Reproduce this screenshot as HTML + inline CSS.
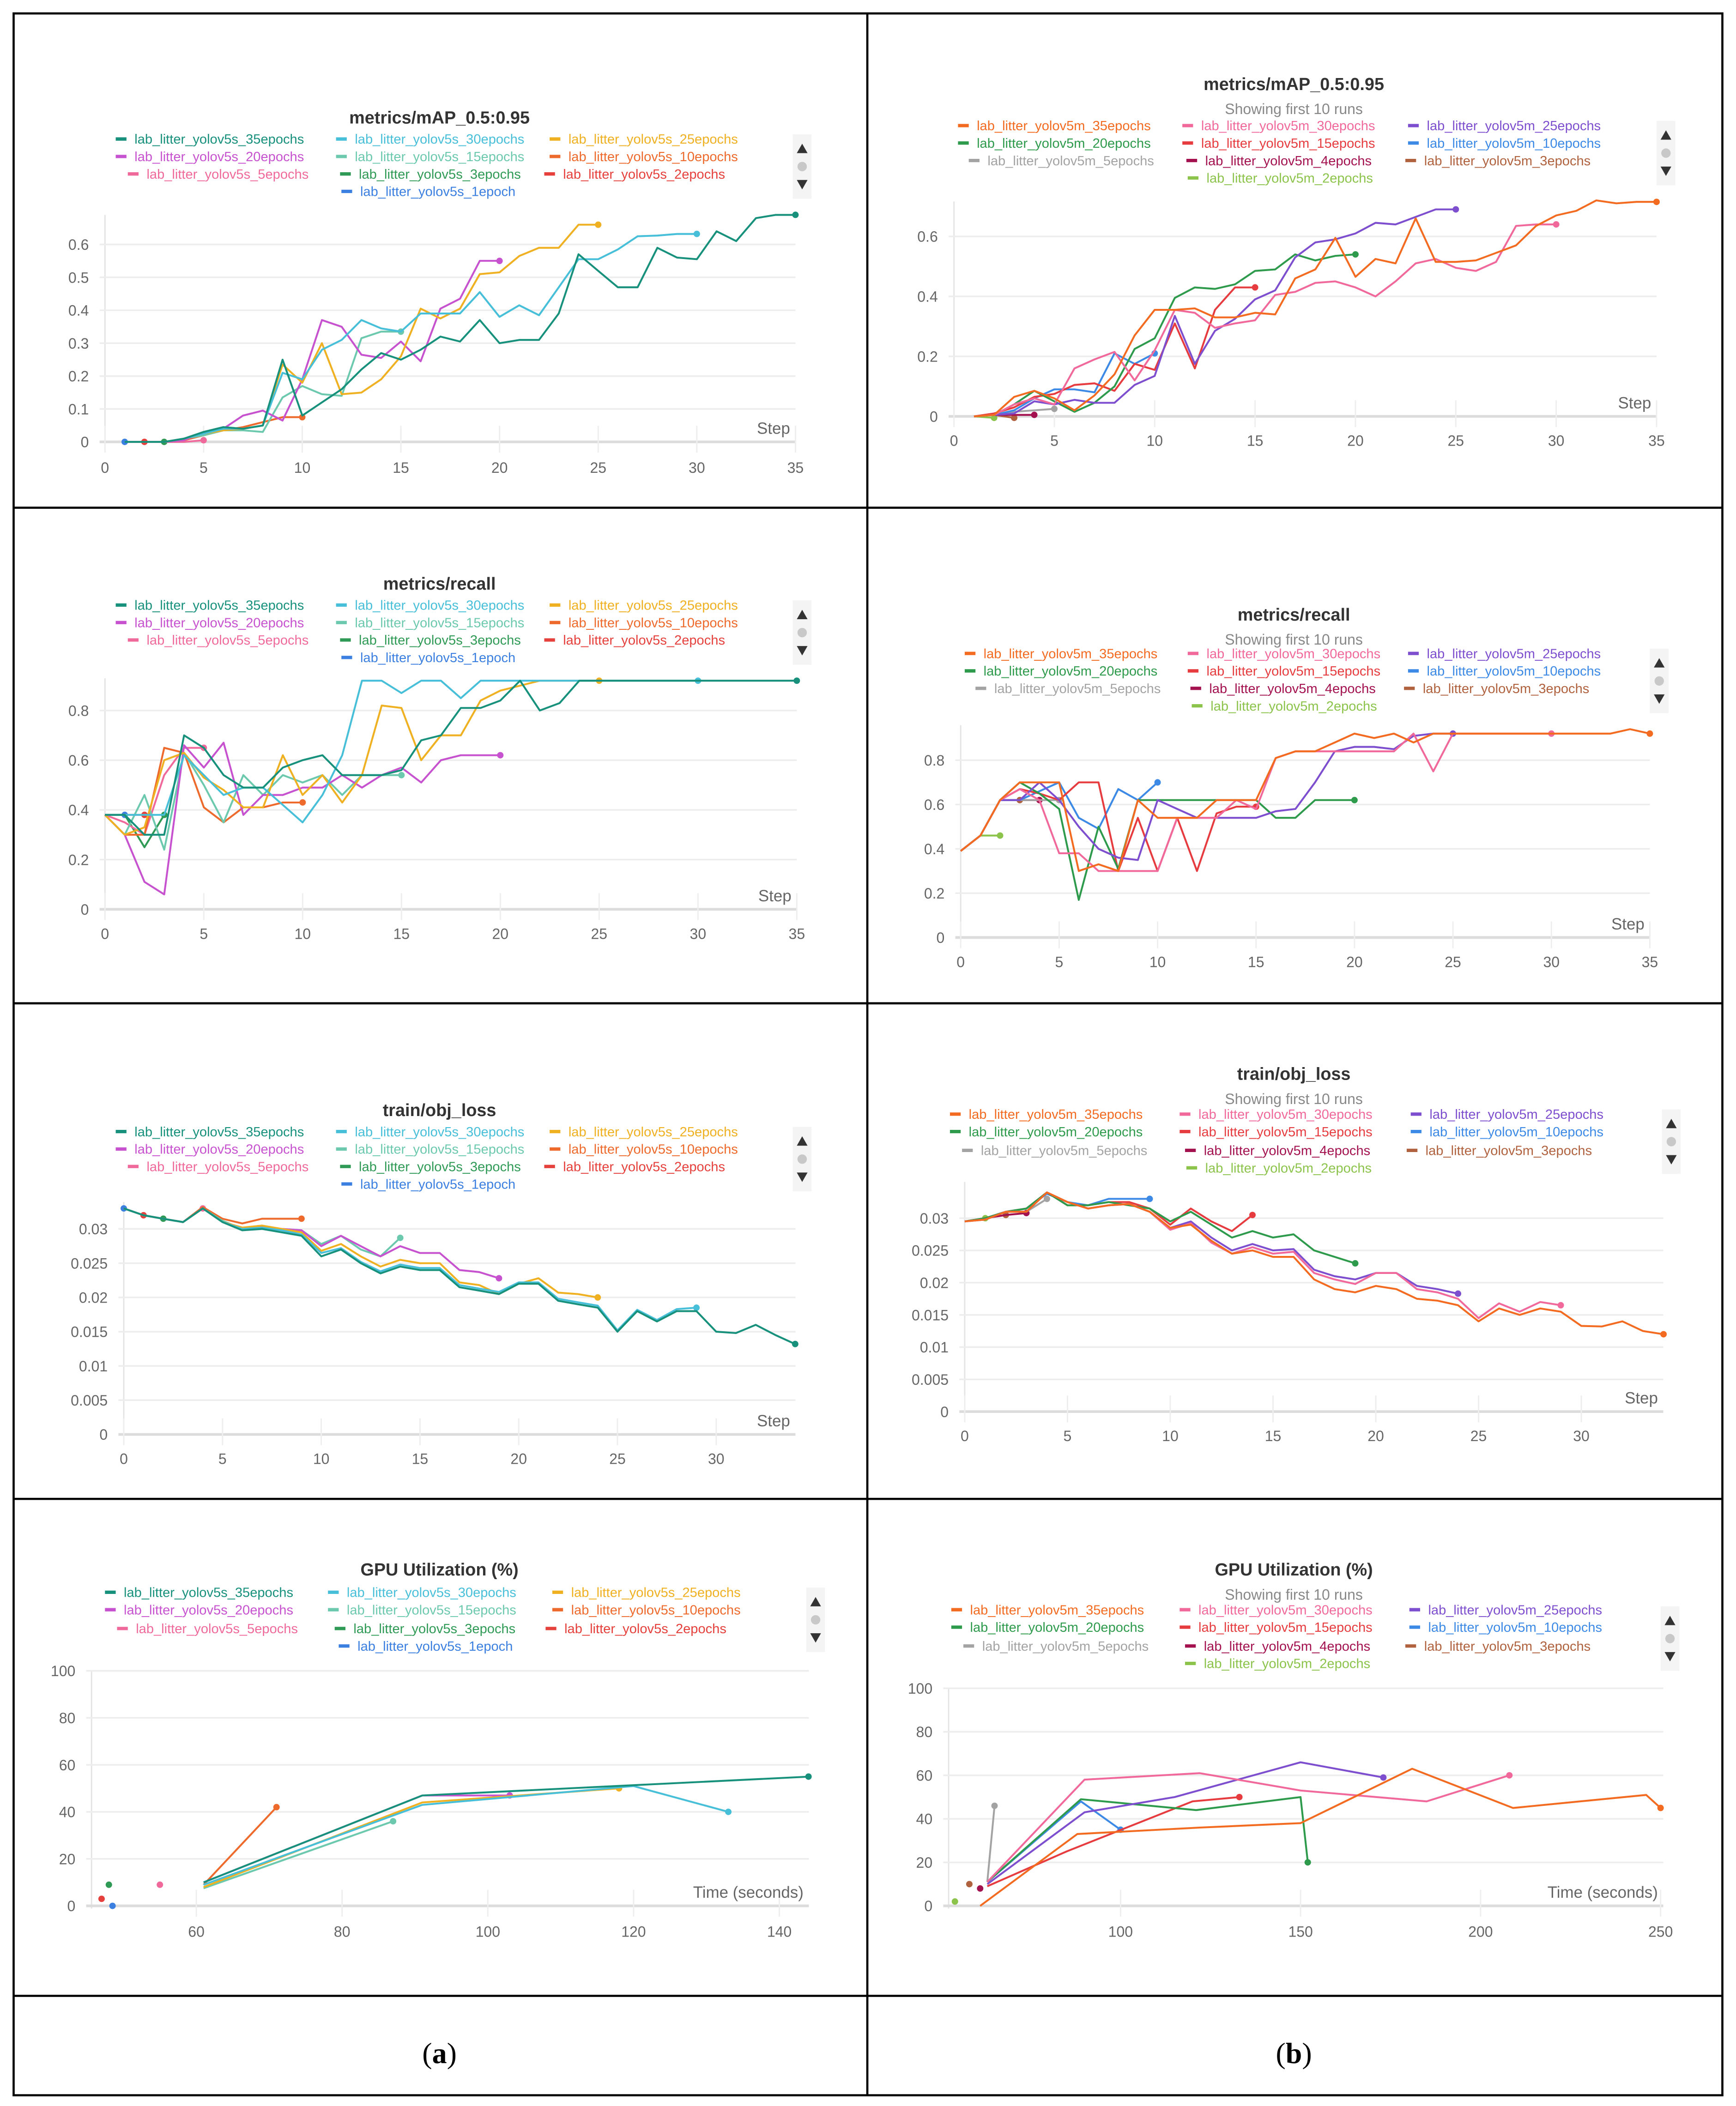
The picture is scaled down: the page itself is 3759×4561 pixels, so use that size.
<!DOCTYPE html>
<html><head><meta charset="utf-8"><style>
html,body{margin:0;padding:0;background:#fff;}
svg{display:block;}
</style></head><body>
<svg id="fig" xmlns="http://www.w3.org/2000/svg" width="3759" height="4561" viewBox="0 0 1292 1568" font-family="'Liberation Sans', sans-serif">
<rect x="0" y="0" width="1292" height="1568" fill="#fff"/>
<g stroke="#000" stroke-width="1.6" fill="none">
<rect x="10" y="10" width="1272" height="1550"/>
<line x1="645.5" y1="10" x2="645.5" y2="1560"/>
<line x1="10" y1="378" x2="1282" y2="378"/>
<line x1="10" y1="747" x2="1282" y2="747"/>
<line x1="10" y1="1116" x2="1282" y2="1116"/>
<line x1="10" y1="1486" x2="1282" y2="1486"/>
</g>
<text x="327" y="1536" text-anchor="middle" font-family="'Liberation Serif', serif" font-size="22" fill="#000">(<tspan font-weight="bold">a</tspan>)</text>
<text x="963" y="1536" text-anchor="middle" font-family="'Liberation Serif', serif" font-size="22" fill="#000">(<tspan font-weight="bold">b</tspan>)</text>
<g id="charts"></g>
</svg>
<script>
// ---------- data: yolov5s mAP (steps from 1) ----------
const mapS35=[0,0,0,0.01,0.03,0.045,0.04,0.05,0.25,0.08,0.12,0.16,0.22,0.27,0.25,0.28,0.32,0.305,0.37,0.30,0.31,0.31,0.39,0.57,0.52,0.47,0.47,0.59,0.56,0.555,0.64,0.61,0.68,0.69,0.69];
const mapS30=[0,0,0,0.01,0.025,0.04,0.04,0.05,0.21,0.19,0.28,0.31,0.37,0.345,0.335,0.39,0.39,0.39,0.455,0.38,0.415,0.385,0.47,0.555,0.555,0.585,0.625,0.627,0.632,0.632];
const mapS25=[0,0,0,0.01,0.025,0.035,0.04,0.05,0.235,0.18,0.30,0.145,0.15,0.19,0.26,0.405,0.375,0.405,0.51,0.515,0.565,0.59,0.59,0.66,0.66];
const mapS20=[0,0,0,0.005,0.03,0.04,0.08,0.095,0.065,0.19,0.37,0.35,0.265,0.255,0.305,0.245,0.405,0.435,0.55,0.55];
const mapS15=[0,0,0,0.01,0.02,0.035,0.035,0.03,0.135,0.17,0.145,0.14,0.315,0.335,0.335];
const mapS10=[0,0,0,0.005,0.02,0.035,0.045,0.06,0.075,0.075];
const mapS5=[0,0,0,0,0.005];
const mapS3=[0,0,0];
const mapS2=[0,0];
const mapS1=[0];
// ---------- yolov5m mAP (steps from 1) ----------
const mapM35=[0,0.005,0.065,0.085,0.06,0.02,0.07,0.14,0.27,0.355,0.355,0.36,0.33,0.33,0.345,0.34,0.46,0.49,0.595,0.465,0.525,0.51,0.66,0.515,0.515,0.52,0.545,0.57,0.635,0.67,0.685,0.72,0.71,0.715,0.715];
const mapM30=[0,0.005,0.04,0.06,0.04,0.16,0.19,0.215,0.12,0.22,0.355,0.345,0.295,0.31,0.32,0.405,0.415,0.445,0.45,0.43,0.40,0.45,0.51,0.525,0.495,0.485,0.515,0.635,0.64,0.64];
const mapM25=[0,0.005,0.01,0.05,0.04,0.055,0.045,0.045,0.105,0.135,0.335,0.175,0.285,0.325,0.39,0.42,0.53,0.58,0.59,0.61,0.645,0.64,0.665,0.69,0.69];
const mapM20=[0,0.005,0.04,0.085,0.05,0.015,0.045,0.10,0.225,0.26,0.395,0.43,0.425,0.44,0.485,0.49,0.54,0.52,0.535,0.54];
const mapM15=[0,0.01,0.03,0.065,0.075,0.105,0.11,0.085,0.175,0.155,0.31,0.16,0.355,0.43,0.43];
const mapM10=[0,0.005,0.02,0.06,0.09,0.09,0.08,0.21,0.175,0.21];
const mapM5=[0,0.005,0.015,0.02,0.025];
const mapM4=[0,0.005,0.005,0.005];
const mapM3=[0,0.005,-0.005];
const mapM2=[0,-0.005];
// ---------- yolov5s recall (steps from 0) ----------
const recS35=[0.38,0.38,0.30,0.30,0.70,0.65,0.54,0.49,0.49,0.57,0.60,0.62,0.54,0.54,0.54,0.56,0.68,0.70,0.81,0.81,0.84,0.92,0.80,0.83,0.92,0.92,0.92,0.92,0.92,0.92,0.92,0.92,0.92,0.92,0.92,0.92];
const recS30=[0.38,0.38,0.38,0.38,0.62,0.54,0.46,0.49,0.49,0.42,0.35,0.46,0.62,0.92,0.92,0.87,0.92,0.92,0.85,0.92,0.92,0.92,0.92,0.92,0.92,0.92,0.92,0.92,0.92,0.92,0.92];
const recS25=[0.38,0.30,0.33,0.60,0.63,0.53,0.48,0.41,0.41,0.62,0.46,0.54,0.43,0.54,0.82,0.81,0.60,0.70,0.70,0.84,0.88,0.90,0.92,0.92,0.92,0.92];
const recS20=[0.38,0.30,0.11,0.06,0.66,0.57,0.67,0.38,0.46,0.46,0.49,0.49,0.54,0.49,0.54,0.57,0.51,0.60,0.62,0.62,0.62];
const recS15=[0.38,0.30,0.46,0.24,0.63,0.50,0.35,0.54,0.46,0.54,0.51,0.54,0.46,0.54,0.54,0.54];
const recS10=[0.38,0.30,0.30,0.65,0.63,0.41,0.35,0.41,0.41,0.43,0.43];
const recS5=[0.38,0.35,0.30,0.54,0.65,0.65];
const recS3=[0.38,0.38,0.25,0.38];
const recS2=[0.38,0.38,0.38];
const recS1=[0.38,0.38];
// ---------- yolov5m recall (steps from 0) ----------
const recM35=[0.39,0.46,0.62,0.70,0.70,0.70,0.30,0.33,0.30,0.62,0.54,0.54,0.54,0.62,0.62,0.62,0.81,0.84,0.84,0.88,0.92,0.90,0.92,0.88,0.92,0.92,0.92,0.92,0.92,0.92,0.92,0.92,0.92,0.92,0.94,0.92];
const recM30=[0.39,0.46,0.62,0.67,0.62,0.38,0.38,0.30,0.30,0.30,0.30,0.54,0.54,0.54,0.62,0.58,0.81,0.84,0.84,0.84,0.84,0.84,0.84,0.92,0.75,0.92,0.92,0.92,0.92,0.92,0.92];
const recM25=[0.39,0.46,0.62,0.62,0.70,0.62,0.50,0.40,0.36,0.35,0.62,0.58,0.54,0.54,0.54,0.54,0.57,0.58,0.70,0.84,0.86,0.86,0.85,0.91,0.92,0.92];
const recM20=[0.39,0.46,0.62,0.70,0.65,0.58,0.17,0.50,0.31,0.62,0.62,0.62,0.62,0.62,0.62,0.62,0.54,0.54,0.62,0.62,0.62];
const recM15=[0.39,0.46,0.62,0.67,0.65,0.62,0.70,0.70,0.30,0.54,0.30,0.54,0.30,0.56,0.59,0.59];
const recM10=[0.39,0.46,0.62,0.62,0.66,0.70,0.54,0.49,0.67,0.62,0.70];
const recM5=[0.39,0.46,0.62,0.62,0.62,0.62];
const recM4=[0.39,0.46,0.62,0.62,0.62];
const recM3=[0.39,0.46,0.62,0.62];
const recM2=[0.39,0.46,0.46];
// ---------- yolov5s obj loss (steps from 0) ----------
const objS35=[0.033,0.032,0.0315,0.031,0.033,0.031,0.0298,0.030,0.0295,0.029,0.026,0.027,0.025,0.0235,0.0245,0.024,0.024,0.0215,0.021,0.0205,0.022,0.022,0.0195,0.019,0.0185,0.015,0.018,0.0165,0.018,0.018,0.015,0.0148,0.016,0.0145,0.0132];
const objS30=[0.033,0.032,0.0315,0.031,0.033,0.031,0.0300,0.0302,0.0298,0.0292,0.0265,0.0272,0.0252,0.0238,0.0248,0.0243,0.0243,0.0218,0.0213,0.0208,0.0222,0.0222,0.0198,0.0193,0.0188,0.0152,0.0182,0.0167,0.0183,0.0185];
const objS25=[0.033,0.032,0.0315,0.031,0.033,0.031,0.0302,0.0305,0.0300,0.0295,0.0268,0.0278,0.026,0.0245,0.0255,0.025,0.025,0.0222,0.0218,0.0205,0.022,0.0228,0.0207,0.0205,0.020];
const objS20=[0.033,0.032,0.0315,0.031,0.033,0.031,0.0302,0.0303,0.0300,0.0298,0.0275,0.029,0.0275,0.026,0.0275,0.0265,0.0265,0.024,0.0237,0.0228];
const objS15=[0.033,0.032,0.0315,0.031,0.033,0.0312,0.030,0.0302,0.030,0.0298,0.0278,0.029,0.027,0.026,0.0287];
const objS10=[0.033,0.032,0.0315,0.031,0.0332,0.0315,0.0308,0.0315,0.0315,0.0315];
const objS5=[0.033,0.032,0.0315,0.031,0.033];
const objS3=[0.033,0.032,0.0315];
const objS2=[0.033,0.032];
const objS1=[0.033];
// ---------- yolov5m obj loss (steps from 0) ----------
const objM35=[0.0295,0.0298,0.031,0.031,0.034,0.0325,0.0315,0.032,0.0322,0.031,0.0285,0.029,0.0265,0.0245,0.025,0.024,0.024,0.0205,0.019,0.0185,0.0195,0.019,0.0175,0.0172,0.0165,0.014,0.016,0.015,0.016,0.0155,0.0133,0.0132,0.014,0.0125,0.012];
const objM30=[0.0295,0.0298,0.031,0.031,0.034,0.0325,0.0315,0.032,0.0322,0.031,0.0282,0.0292,0.0262,0.0245,0.0255,0.0245,0.0248,0.0215,0.0205,0.0198,0.0215,0.0215,0.019,0.0185,0.0175,0.0145,0.0168,0.0155,0.017,0.0165];
const objM25=[0.0295,0.0298,0.031,0.031,0.034,0.0325,0.0315,0.032,0.0322,0.031,0.0285,0.0295,0.027,0.025,0.026,0.025,0.0252,0.022,0.021,0.0205,0.0215,0.0215,0.0195,0.019,0.0183];
const objM20=[0.0295,0.030,0.031,0.0315,0.034,0.032,0.032,0.0325,0.032,0.0315,0.0295,0.031,0.029,0.027,0.028,0.027,0.0275,0.025,0.024,0.023];
const objM15=[0.0295,0.030,0.031,0.0315,0.034,0.032,0.032,0.0325,0.0325,0.0315,0.029,0.0315,0.0295,0.028,0.0305];
const objM10=[0.0295,0.030,0.031,0.0315,0.0338,0.0325,0.032,0.033,0.033,0.033];
const objM5=[0.0295,0.030,0.031,0.031,0.033];
const objM4=[0.0295,0.030,0.0305,0.0308];
const objM3=[0.0295,0.030,0.0305];
const objM2=[0.0295,0.030];
// ---------- yolov5s GPU utilisation (time s, %) ----------
const gpuS35T=[61,91,144], gpuS35V=[10,47,55];
const gpuS30T=[61,91,120,133], gpuS30V=[9,43,51,40];
const gpuS25T=[61,91,118], gpuS25V=[8,44,50];
const gpuS20T=[61,91,103], gpuS20V=[10,47,47];
const gpuS15T=[61,87], gpuS15V=[7.5,36];
const gpuS10T=[61,71], gpuS10V=[9,42];
const gpuS5T=[55], gpuS5V=[9];
const gpuS3T=[48], gpuS3V=[9];
const gpuS2T=[47], gpuS2V=[3];
const gpuS1T=[48.5], gpuS1V=[0];
// ---------- yolov5m GPU utilisation ----------
const gpuM35T=[61,88,122,150,181,209,246,250], gpuM35V=[0,33,36,38,63,45,51,45];
const gpuM30T=[63,90,122,150,185,208], gpuM30V=[11,58,61,53,48,60];
const gpuM25T=[63,90,115,150,173], gpuM25V=[10,43,50,66,59];
const gpuM20T=[63,89,121,150,152], gpuM20V=[11,49,44,50,20];
const gpuM15T=[63,85,120,133], gpuM15V=[9,25,48,50];
const gpuM10T=[63,89,100], gpuM10V=[11,48,35];
const gpuM5T=[63,65], gpuM5V=[11,46];
const gpuM4T=[61], gpuM4V=[8];
const gpuM3T=[58], gpuM3V=[10];
const gpuM2T=[54], gpuM2V=[2];

// ---------- names / colours ----------
const sNames=['lab_litter_yolov5s_35epochs','lab_litter_yolov5s_30epochs','lab_litter_yolov5s_25epochs','lab_litter_yolov5s_20epochs','lab_litter_yolov5s_15epochs','lab_litter_yolov5s_10epochs','lab_litter_yolov5s_5epochs','lab_litter_yolov5s_3epochs','lab_litter_yolov5s_2epochs','lab_litter_yolov5s_1epoch'];
const sColors=['#17907c','#48bfd9','#efb021','#c752cf','#6cc9ae','#ee6a2c','#ef6a9a','#2f9a55','#e5403c','#3b7fe0'];
const mNames=['lab_litter_yolov5m_35epochs','lab_litter_yolov5m_30epochs','lab_litter_yolov5m_25epochs','lab_litter_yolov5m_20epochs','lab_litter_yolov5m_15epochs','lab_litter_yolov5m_10epochs','lab_litter_yolov5m_5epochs','lab_litter_yolov5m_4epochs','lab_litter_yolov5m_3epochs','lab_litter_yolov5m_2epochs'];
const mColors=['#f26b21','#f0699a','#7d4fcf','#2e9a4c','#e63c3f','#3c89e6','#a3a3a3','#a3114f','#b0623f','#8cc34b'];

const NS='http://www.w3.org/2000/svg';
const root=document.getElementById('charts');
function mk(tag,parent){const e=document.createElementNS(NS,tag);parent.appendChild(e);return e;}

const panels=[
 {id:'map-yolov5s',title:'metrics/mAP_0.5:0.95',sub:null,titleY:92,legY:[107,120,133,146],legX:[[86,250,409],[86,250,409],[95,253,405],[254]],names:sNames,colors:sColors,
  series:[mapS35,mapS30,mapS25,mapS20,mapS15,mapS10,mapS5,mapS3,mapS2,mapS1],start:1,
  xa:0,pxa:78,xb:35,pxb:592,left:78,right:592,top:160,ya:0,pya:329,yb:0.6,pyb:182,yticks:[0,0.1,0.2,0.3,0.4,0.5,0.6],xticks:[0,5,10,15,20,25,30,35],xlab:'Step',tickY:352,scroll:[590,100]},
 {id:'map-yolov5m',title:'metrics/mAP_0.5:0.95',sub:'Showing first 10 runs',titleY:67,legY:[97,110,123,136],legX:[[713,880,1048],[713,880,1048],[721,883,1046],[884]],names:mNames,colors:mColors,
  series:[mapM35,mapM30,mapM25,mapM20,mapM15,mapM10,mapM5,mapM4,mapM3,mapM2],start:1,
  xa:0,pxa:710,xb:35,pxb:1233,left:710,right:1233,top:150,ya:0,pya:310,yb:0.6,pyb:176,yticks:[0,0.2,0.4,0.6],xticks:[0,5,10,15,20,25,30,35],xlab:'Step',tickY:332,scroll:[1233,90]},
 {id:'recall-yolov5s',title:'metrics/recall',sub:null,titleY:439,legY:[454,467,480,493],legX:[[86,250,409],[86,250,409],[95,253,405],[254]],names:sNames,colors:sColors,
  series:[recS35,recS30,recS25,recS20,recS15,recS10,recS5,recS3,recS2,recS1],start:0,
  xa:0,pxa:78,xb:35,pxb:593,left:78,right:593,top:505,ya:0,pya:677,yb:0.8,pyb:529,yticks:[0,0.2,0.4,0.6,0.8],xticks:[0,5,10,15,20,25,30,35],xlab:'Step',tickY:699,scroll:[590,447]},
 {id:'recall-yolov5m',title:'metrics/recall',sub:'Showing first 10 runs',titleY:462,legY:[490,503,516,529],legX:[[718,884,1048],[718,884,1048],[726,886,1045],[887]],names:mNames,colors:mColors,
  series:[recM35,recM30,recM25,recM20,recM15,recM10,recM5,recM4,recM3,recM2],start:0,
  xa:0,pxa:715,xb:35,pxb:1228,left:715,right:1228,top:540,ya:0,pya:698,yb:0.8,pyb:566,yticks:[0,0.2,0.4,0.6,0.8],xticks:[0,5,10,15,20,25,30,35],xlab:'Step',tickY:720,scroll:[1228,483]},
 {id:'objloss-yolov5s',title:'train/obj_loss',sub:null,titleY:831,legY:[846,859,872,885],legX:[[86,250,409],[86,250,409],[95,253,405],[254]],names:sNames,colors:sColors,
  series:[objS35,objS30,objS25,objS20,objS15,objS10,objS5,objS3,objS2,objS1],start:0,
  xa:0,pxa:92,xb:30,pxb:533,left:92,right:592,top:895,ya:0,pya:1068,yb:0.03,pyb:915,yticks:[0,0.005,0.01,0.015,0.02,0.025,0.03],xticks:[0,5,10,15,20,25,30],xlab:'Step',tickY:1090,scroll:[590,839]},
 {id:'objloss-yolov5m',title:'train/obj_loss',sub:'Showing first 10 runs',titleY:804,legY:[833,846,860,873],legX:[[707,878,1050],[707,878,1050],[716,882,1047],[883]],names:mNames,colors:mColors,
  series:[objM35,objM30,objM25,objM20,objM15,objM10,objM5,objM4,objM3,objM2],start:0,
  xa:0,pxa:718,xb:30,pxb:1177,left:718,right:1238,top:880,ya:0,pya:1051,yb:0.03,pyb:907,yticks:[0,0.005,0.01,0.015,0.02,0.025,0.03],xticks:[0,5,10,15,20,25,30],xlab:'Step',tickY:1073,scroll:[1237,826]},
 {id:'gpu-yolov5s',title:'GPU Utilization (%)',sub:null,titleY:1173,legY:[1189,1202,1216,1229],legX:[[78,244,411],[78,244,411],[87,249,406],[252]],names:sNames,colors:sColors,
  seriesT:[gpuS35T,gpuS30T,gpuS25T,gpuS20T,gpuS15T,gpuS10T,gpuS5T,gpuS3T,gpuS2T,gpuS1T],seriesV:[gpuS35V,gpuS30V,gpuS25V,gpuS20V,gpuS15V,gpuS10V,gpuS5V,gpuS3V,gpuS2V,gpuS1V],
  xa:60,pxa:146,xb:140,pxb:580,left:68,right:602,top:1244,ya:0,pya:1419,yb:100,pyb:1244,yticks:[0,20,40,60,80,100],xticks:[60,80,100,120,140],xlab:'Time (seconds)',tickY:1442,scroll:[600,1182]},
 {id:'gpu-yolov5m',title:'GPU Utilization (%)',sub:'Showing first 10 runs',titleY:1173,legY:[1202,1215,1229,1242],legX:[[708,878,1049],[708,878,1049],[717,882,1046],[882]],names:mNames,colors:mColors,
  seriesT:[gpuM35T,gpuM30T,gpuM25T,gpuM20T,gpuM15T,gpuM10T,gpuM5T,gpuM4T,gpuM3T,gpuM2T],seriesV:[gpuM35V,gpuM30V,gpuM25V,gpuM20V,gpuM15V,gpuM10V,gpuM5V,gpuM4V,gpuM3V,gpuM2V],
  xa:100,pxa:834,xb:250,pxb:1236,left:706,right:1238,top:1257,ya:0,pya:1419,yb:100,pyb:1257,yticks:[0,20,40,60,80,100],xticks:[100,150,200,250],xlab:'Time (seconds)',tickY:1442,scroll:[1236,1196]}
];

function fmt(v){return String(+v.toFixed(4));}

panels.forEach(p=>{
  const g=mk('g',root);
  
  
  const X=v=>p.pxa+(v-p.xa)*(p.pxb-p.pxa)/(p.xb-p.xa);
  const Y=v=>p.pya+(v-p.ya)*(p.pyb-p.pya)/(p.yb-p.ya);
  const cx=(p.left+p.right)/2;
  const panelCx=p.left<640?327:963;
  // title
  const t=mk('text',g);
  
  
  t.setAttribute('x',panelCx);t.setAttribute('y',p.titleY);t.setAttribute('text-anchor','middle');
  t.setAttribute('font-size','13');t.setAttribute('font-weight','bold');t.setAttribute('fill','#333');
  t.textContent=p.title;
  if(p.sub){const s=mk('text',g);
    
    
    s.setAttribute('x',panelCx);s.setAttribute('y',p.titleY+18);s.setAttribute('text-anchor','middle');
    s.setAttribute('font-size','11');s.setAttribute('fill','#888');s.textContent=p.sub;}
  // legend
  const lg=mk('g',g);
  
  
  let k=0;
  p.legX.forEach((row,ri)=>row.forEach(lx=>{
    const i=k++;
    const it=mk('g',lg);
    
    
    const d=mk('line',it);
    d.setAttribute('x1',lx);d.setAttribute('x2',lx+8);d.setAttribute('y1',p.legY[ri]-3.5);d.setAttribute('y2',p.legY[ri]-3.5);
    d.setAttribute('stroke',p.colors[i]);d.setAttribute('stroke-width','2.5');
    const tx=mk('text',it);
    tx.setAttribute('x',lx+14);tx.setAttribute('y',p.legY[ri]);tx.setAttribute('font-size','10');tx.setAttribute('fill',p.colors[i]);
    tx.textContent=p.names[i];
  }));
  // scroll widget
  const sc=mk('g',g);
  
  
  const sr=mk('rect',sc);
  sr.setAttribute('x',p.scroll[0]);sr.setAttribute('y',p.scroll[1]);sr.setAttribute('width','14');sr.setAttribute('height','48');sr.setAttribute('fill','#f4f4f4');
  const up=mk('path',sc);
  up.setAttribute('d',`M${p.scroll[0]+3},${p.scroll[1]+14} L${p.scroll[0]+11},${p.scroll[1]+14} L${p.scroll[0]+7},${p.scroll[1]+7} Z`);up.setAttribute('fill','#333');
  const dot=mk('circle',sc);
  dot.setAttribute('cx',p.scroll[0]+7);dot.setAttribute('cy',p.scroll[1]+24);dot.setAttribute('r','3.5');dot.setAttribute('fill','#c8c8c8');
  const dn=mk('path',sc);
  dn.setAttribute('d',`M${p.scroll[0]+3},${p.scroll[1]+34} L${p.scroll[0]+11},${p.scroll[1]+34} L${p.scroll[0]+7},${p.scroll[1]+41} Z`);dn.setAttribute('fill','#333');
  // axes
  const ax=mk('g',g);
  
  
  const yl=mk('line',ax);
  yl.setAttribute('x1',p.left);yl.setAttribute('x2',p.left);yl.setAttribute('y1',p.top);yl.setAttribute('y2',p.pya+2);yl.setAttribute('stroke','#e4e4e4');yl.setAttribute('stroke-width','1');
  p.yticks.forEach(v=>{
    const gl=mk('line',ax);
    
    
    gl.setAttribute('x1',p.left-4);gl.setAttribute('x2',p.right);gl.setAttribute('y1',Y(v));gl.setAttribute('y2',Y(v));
    gl.setAttribute('stroke',v===0?'#dcdcdc':'#ededed');gl.setAttribute('stroke-width',v===0?'2':'1.2');
    const tl=mk('text',ax);
    
    
    tl.setAttribute('x',p.left-12);tl.setAttribute('y',Y(v)+4);tl.setAttribute('text-anchor','end');tl.setAttribute('font-size','11');tl.setAttribute('fill','#666');
    tl.textContent=fmt(v);
  });
  p.xticks.forEach(v=>{
    const tk=mk('line',ax);
    tk.setAttribute('x1',X(v));tk.setAttribute('x2',X(v));tk.setAttribute('y1',p.pya-12);tk.setAttribute('y2',p.pya+8);tk.setAttribute('stroke','#eeeeee');
    const tl=mk('text',ax);
    
    
    tl.setAttribute('x',X(v));tl.setAttribute('y',p.tickY);tl.setAttribute('text-anchor','middle');tl.setAttribute('font-size','11');tl.setAttribute('fill','#666');
    tl.textContent=v;
  });
  const xl=mk('text',ax);
  
  
  xl.setAttribute('x',p.right-4);xl.setAttribute('y',p.pya-6);xl.setAttribute('text-anchor','end');xl.setAttribute('font-size','12');xl.setAttribute('fill','#666');
  xl.textContent=p.xlab;
  // series (draw longest last so it is on top? reference: first run on top) -> draw reversed
  for(let i=p.names.length-1;i>=0;i--){
    let pts;
    if(p.series){const arr=p.series[i];pts=arr.map((v,j)=>[X(p.start+j),Y(v)]);}
    else{const tt=p.seriesT[i],vv=p.seriesV[i];pts=tt.map((v,j)=>[X(v),Y(vv[j])]);}
    const sg=mk('g',g);
    
    
    if(pts.length>1){
      const pl=mk('polyline',sg);
      pl.setAttribute('points',pts.map(q=>q[0].toFixed(1)+','+q[1].toFixed(1)).join(' '));
      pl.setAttribute('fill','none');pl.setAttribute('stroke',p.colors[i]);pl.setAttribute('stroke-width','1.4');pl.setAttribute('stroke-linejoin','round');
    }
    const last=pts[pts.length-1];
    const c=mk('circle',sg);
    
    
    c.setAttribute('cx',last[0]);c.setAttribute('cy',last[1]);c.setAttribute('r','2.4');c.setAttribute('fill',p.colors[i]);
  }
});
</script>
</body></html>
